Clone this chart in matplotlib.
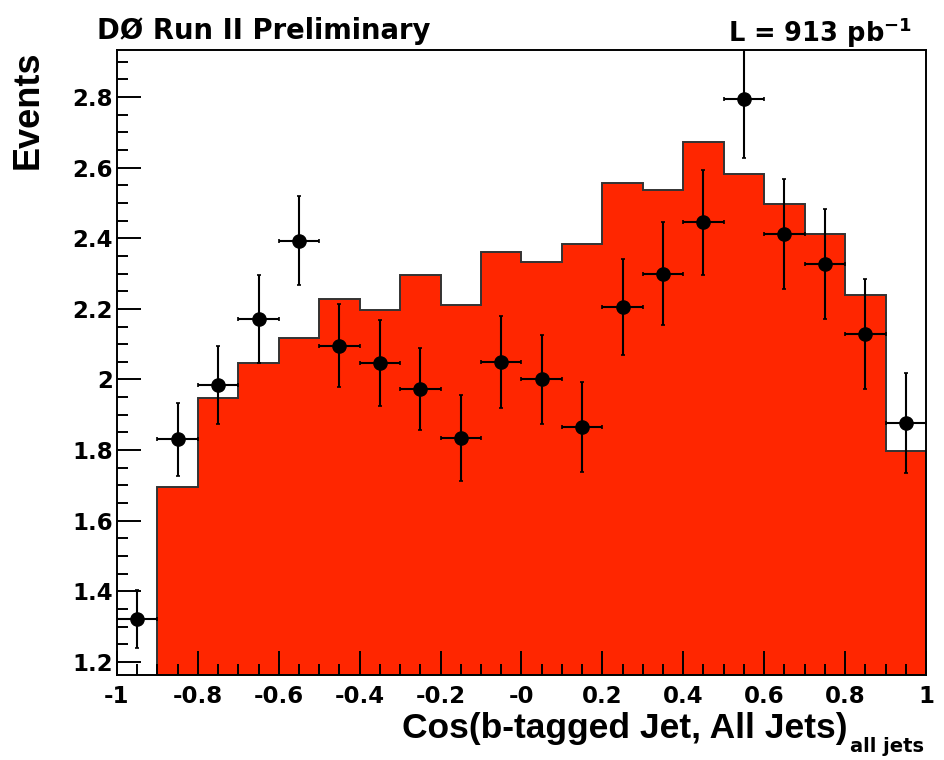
import numpy as np
import matplotlib
matplotlib.use("Agg")
import matplotlib.pyplot as plt
from matplotlib.ticker import MultipleLocator

plt.rcParams['font.family'] = ['Liberation Sans', 'DejaVu Sans']
plt.rcParams['font.weight'] = 'bold'
plt.rcParams['mathtext.fontset'] = 'custom'
plt.rcParams['mathtext.rm'] = 'DejaVu Sans:bold'
plt.rcParams['mathtext.bf'] = 'DejaVu Sans:bold'

# bin edges of cos(b-tagged jet, all jets)
edges = np.linspace(-1.0, 1.0, 21)
centers = 0.5 * (edges[:-1] + edges[1:])

# expected (MC) histogram, red filled
mc = [1.12, 1.695, 1.947, 2.046, 2.117, 2.227, 2.197, 2.296, 2.211, 2.362,
      2.332, 2.385, 2.556, 2.537, 2.672, 2.582, 2.497, 2.412, 2.239, 1.798]

# data points and errors
data = [1.321, 1.831, 1.984, 2.171, 2.393, 2.096, 2.046, 1.973, 1.834, 2.050,
        2.000, 1.865, 2.205, 2.299, 2.445, 2.793, 2.411, 2.326, 2.129, 1.876]
data_err = [0.082, 0.103, 0.110, 0.125, 0.126, 0.118, 0.122, 0.117, 0.121, 0.130,
            0.127, 0.127, 0.136, 0.146, 0.148, 0.167, 0.156, 0.156, 0.155, 0.142]

xticks = [-1, -0.8, -0.6, -0.4, -0.2, 0, 0.2, 0.4, 0.6, 0.8, 1]
xticklabels = ['-1', '-0.8', '-0.6', '-0.4', '-0.2', '-0', '0.2', '0.4', '0.6', '0.8', '1']
yticks = [1.2, 1.4, 1.6, 1.8, 2.0, 2.2, 2.4, 2.6, 2.8]
yticklabels = ['1.2', '1.4', '1.6', '1.8', '2', '2.2', '2.4', '2.6', '2.8']

fig = plt.figure(figsize=(9.44, 7.6), dpi=100)
ax = fig.add_axes([0.1239, 0.1118, 0.857, 0.8224])

ax.stairs(mc, edges, fill=True, facecolor='#ff2600', linewidth=0)
ax.stairs(mc, edges, fill=False, edgecolor='#333333', linewidth=1.4)

ax.errorbar(centers, data, yerr=data_err, xerr=0.05, fmt='o', color='black',
            markersize=9.5, elinewidth=1.5, capsize=1.5, capthick=1.2)

ax.set_xlim(-1.0, 1.0)
ax.set_ylim(1.163, 2.933)

ax.set_xticks(xticks, xticklabels)
ax.set_yticks(yticks, yticklabels)
ax.xaxis.set_minor_locator(MultipleLocator(0.05))
ax.yaxis.set_minor_locator(MultipleLocator(0.05))
ax.tick_params(which='both', direction='in', top=False, right=False,
               labelsize=16.5, width=1.4)
ax.tick_params(which='major', length=17)
ax.tick_params(which='minor', length=8)
ax.tick_params(axis='x', pad=7)
ax.tick_params(axis='y', pad=3)
for lab in ax.get_xticklabels() + ax.get_yticklabels():
    lab.set_fontweight('bold')
    lab.set_family('DejaVu Sans')
for s in ax.spines.values():
    s.set_linewidth(1.4)

ax.set_ylabel('Events', fontsize=26, fontweight='bold', loc='top', labelpad=19)

fig.text(848 / 944, 1 - 738 / 760, 'Cos(b-tagged Jet, All Jets)', fontsize=25.5,
         fontweight='bold', ha='right', va='baseline')
fig.text(924 / 944, 1 - 752 / 760, 'all jets', fontsize=14,
         fontweight='bold', ha='right', va='baseline', family='DejaVu Sans')

fig.text(97 / 944, 1 - 39 / 760, 'DØ Run II Preliminary', fontsize=19.8,
         fontweight='bold', ha='left', va='baseline', family='DejaVu Sans')
fig.text(912 / 944, 1 - 42 / 760, r'L = 913 pb$^{\mathbf{-1}}$', fontsize=18.5,
         fontweight='bold', ha='right', va='baseline', family='DejaVu Sans')

fig.savefig('out.png', dpi=100)
